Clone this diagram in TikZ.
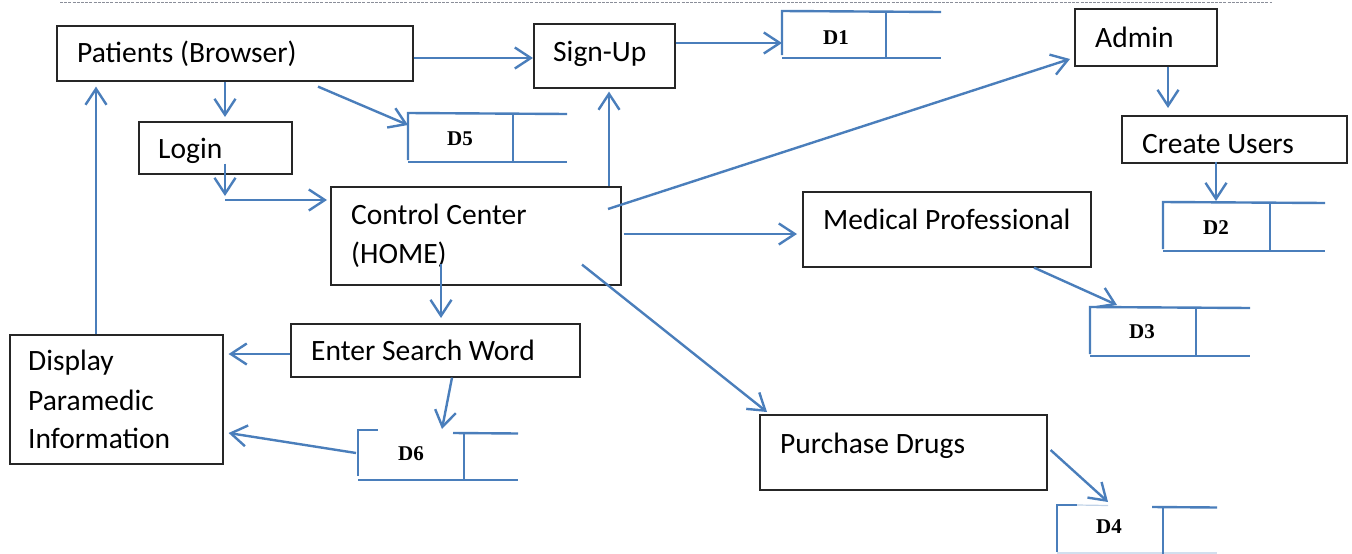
\documentclass[tikz,border=0pt]{standalone}
\usepackage{fontspec}
\setmainfont{Carlito}
\newfontfamily\storefont{Liberation Serif}
\usetikzlibrary{arrows.meta}
\definecolor{flowblue}{HTML}{4A7EBB}
\definecolor{rulegray}{HTML}{8A8E99}
\tikzset{
  box/.style={draw=black!85, line width=1.6pt, inner sep=0pt, anchor=north west},
  lbl/.style={anchor=base west, inner sep=0pt, font=\fontsize{29.5}{38}\selectfont},
  slbl/.style={anchor=base, inner sep=0pt, font=\storefont\bfseries\fontsize{21}{24}\selectfont},
  flow/.style={draw=flowblue, line width=2.4pt,
    -{Straight Barb[length=16pt,width=21pt,line width=2.4pt]}},
  store/.style={draw=flowblue, line width=2.4pt},
  divider/.style={draw=flowblue, line width=2pt},
}
\begin{document}
\begin{tikzpicture}[x=1pt,y=-1pt]
\useasboundingbox (0,0) rectangle (1352,554);

% page rule at the top
\draw[rulegray, line width=1pt, dash pattern=on 3pt off 1.2pt] (60,2.5) -- (1272,2.5);

% process boxes
\node[box, minimum width=356pt, minimum height=55pt] (pat)   at (56,25)   {};
\node[box, minimum width=141pt, minimum height=64pt] (su)    at (533,23)  {};
\node[box, minimum width=142pt, minimum height=57pt] (adm)   at (1074,8)  {};
\node[box, minimum width=225pt, minimum height=47pt] (cu)    at (1121,115){};
\node[box, minimum width=153pt, minimum height=52pt] (login) at (138,121) {};
\node[box, minimum width=290pt, minimum height=98pt] (cc)    at (330,186) {};
\node[box, minimum width=288pt, minimum height=75pt] (med)   at (802,191) {};
\node[box, minimum width=289pt, minimum height=53pt] (esw)   at (290,323) {};
\node[box, minimum width=213pt, minimum height=129pt](disp)  at (9,334)   {};
\node[box, minimum width=287pt, minimum height=75pt] (pd)    at (759,414) {};

% box texts
\node[lbl] (patT) at (77,62)   {Patients (Browser)};
\node[lbl] (suT)  at (553,61)  {Sign-Up};
\node[lbl] (admT) at (1095,47) {Admin};
\node[lbl] (cuT)  at (1142,153) {Create Users};
\node[lbl] (loT)  at (158,158) {Login};
\node[lbl] (ccT1) at (351,224) {Control Center};
\node[lbl] (ccT2) at (351,263) {(HOME)};
\node[lbl] (medT) at (823,229) {Medical Professional};
\node[lbl] (eswT) at (311,360) {Enter Search Word};
\node[lbl] (dT1)  at (28,370)  {Display};
\node[lbl] (dT2)  at (28,410)  {Paramedic};
\node[lbl] (dT3)  at (28,448)  {Information};
\node[lbl] (pdT)  at (780,453) {Purchase Drugs};

% data stores (top-left corners)
\coordinate (d1) at (782,11);
\coordinate (d5) at (408,113);
\coordinate (d2) at (1163,202);
\coordinate (d3) at (1090,307);
\coordinate (d6) at (358,430);
\coordinate (d4) at (1057,505);

% D1
\draw[store] (782,55) -- (782,11) -- (941,12);
\draw[store] (782,58) -- (941,58);
\draw[divider] (886,11.5) -- (886,58);
\node[slbl] (d1T) at (836,44) {D1};
% D5
\draw[store] (408,160) -- (408,113) -- (567,114);
\draw[store] (408,162) -- (567,162);
\draw[divider] (513,113.5) -- (513,162);
\node[slbl] (d5T) at (460,145) {D5};
% D2
\draw[store] (1163,249) -- (1163,202) -- (1325,203);
\draw[store] (1163,251) -- (1325,251);
\draw[divider] (1270,202.5) -- (1270,251);
\node[slbl] (d2T) at (1216,234) {D2};
% D3
\draw[store] (1090,354) -- (1090,307) -- (1250,308);
\draw[store] (1090,356) -- (1250,356);
\draw[divider] (1196,307.5) -- (1196,356);
\node[slbl] (d3T) at (1142,338) {D3};
% D6
\draw[store] (358,476) -- (358,430) -- (378,430);
\draw[store] (453,433) -- (518,433.5);
\draw[store] (358,480) -- (518,480);
\draw[divider] (464,433) -- (464,480);
\node[slbl] (d6T) at (411,460) {D6};
% D4
\draw[store] (1057,552) -- (1057,505) -- (1077,505);
\draw[store, draw=flowblue!35, line width=1.2pt] (1077,505) -- (1108,505.5);
\draw[store] (1152,507) -- (1217,507.5);
\draw[store, draw=flowblue!25, line width=1.2pt] (1057,553) -- (1217,553);
\draw[divider] (1163,507) -- (1163,554);
\node[slbl] (d4T) at (1109,533) {D4};

% flows
\draw[flow] (pat.east |- 0,58) -- (su.west |- 0,58);
\draw[flow] (su.east |- 0,43) -- (d1 |- 0,43);
\draw[flow] (pat.south -| 225,0) -- ([yshift=4pt]login.north -| 225,0);
\draw[flow] ([yshift=-5pt]pat.south -| 318,0) -- (d5 |- 0,125);
\draw[flow] ([yshift=11pt]login.south -| 225,0) -- (225,196);
\coordinate (ccin) at (225,200);
\draw[flow] (ccin) -- ([xshift=-3pt]cc.west |- ccin);
\draw[flow] (cc.north -| 609,0) -- ([yshift=-3pt]su.south -| 609,0);
\draw[flow] ([yshift=-23pt]cc.north -| 608,0) -- ([xshift=-4pt]adm.west |- 0,59);
\draw[flow] ([xshift=2pt]cc.east |- 0,234) -- ([xshift=-5pt]med.west |- 0,234);
\draw[flow] ([yshift=21pt]cc.south -| 582,0) -- ([yshift=2pt]pd.north -| 767,0);
\draw[flow] ([yshift=22pt]cc.south -| 441,0) -- ([yshift=5pt]esw.north -| 441,0);
\draw[flow] (esw.west |- 0,354) -- ([xshift=5pt]disp.east |- 0,354);
\draw[flow] (esw.south -| 452,0) -- (442,429);
\draw[flow] ([xshift=-2pt]d6 |- 0,453) -- ([xshift=5pt]disp.east |- 0,433);
\draw[flow] (disp.north -| 96,0) -- ([yshift=-5pt]pat.south -| 96,0);
\draw[flow] (adm.south -| 1168,0) -- (1168,108);
\draw[flow] ([yshift=2pt]cu.south -| 1216,0) -- ([yshift=1pt]d2 -| 1216,0);
\draw[flow] (med.south -| 1034,0) -- (1117,305);
\draw[flow] ([xshift=3pt]pd.east |- 0,450) -- (1108,502);
\end{tikzpicture}
\end{document}
